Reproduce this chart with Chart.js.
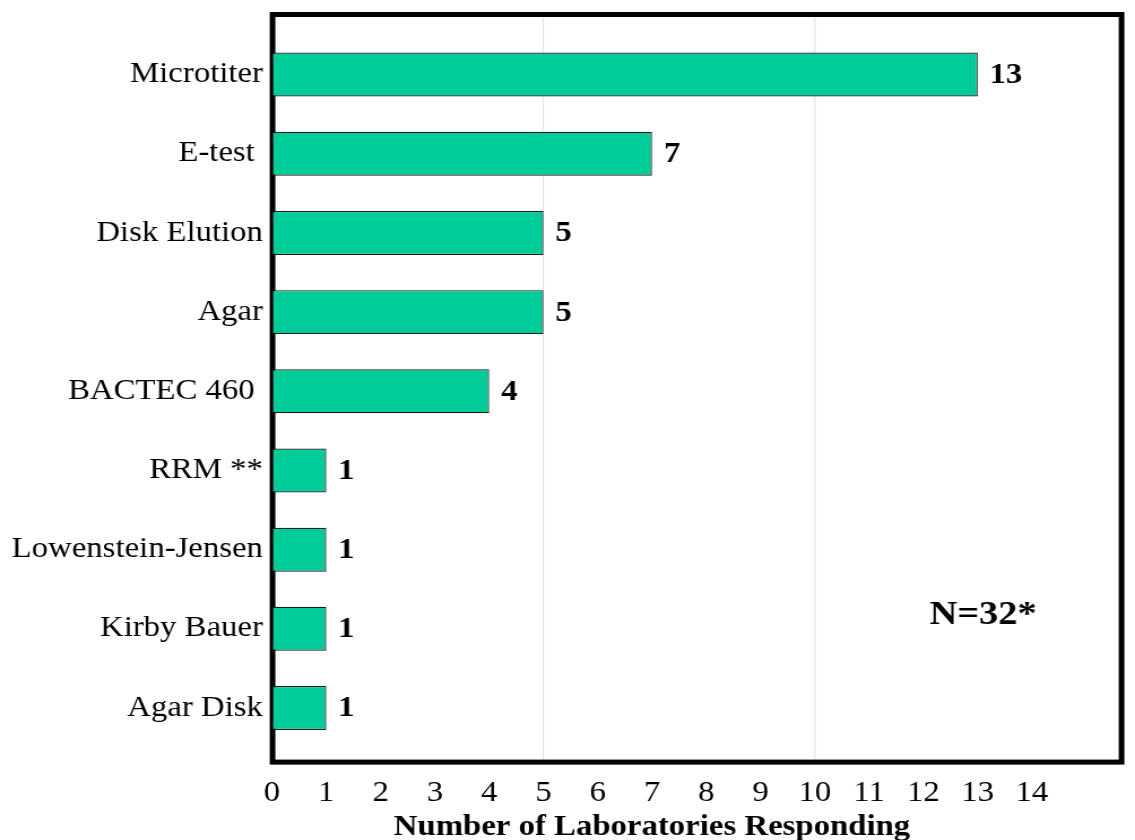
<!DOCTYPE html>
<html>
<head>
<meta charset="utf-8">
<script src="https://cdn.jsdelivr.net/npm/chart.js@4.4.1/dist/chart.umd.min.js"></script>
<style>
body{margin:0;background:#fff;overflow:hidden}
/* the original slide is stretched sideways a little */
#wrap{width:1004px;height:840px;transform:scaleX(1.1305);transform-origin:0 0}
</style>
</head>
<body>
<div id="wrap"><canvas id="methodChart" width="1004" height="840"></canvas></div>
<script>
const methods = ['Microtiter', 'E-test ', 'Disk Elution', 'Agar', 'BACTEC 460 ', 'RRM **', 'Lowenstein-Jensen', 'Kirby Bauer', 'Agar Disk'];
const labCounts = [13, 7, 5, 5, 4, 1, 1, 1, 1];
const tickValues = [0, 1, 2, 3, 4, 5, 6, 7, 8, 9, 10, 11, 12, 13, 14];
const gridValues = [5, 10];
const axisMax = 15.65;
const axisTitle = 'Number of Laboratories Responding';
const noteText = 'N=32*';

const serif = '"Liberation Serif", "Times New Roman", serif';

// box around the plot + the two light grid lines (drawn under the bars)
const framePlugin = {
    id: 'frame',
    beforeDatasetsDraw(chart) {
        const {ctx, chartArea} = chart;
        const x = chart.scales.x;
        const top = chartArea.top - 20.5;
        const bottom = chartArea.bottom + 14.5;
        ctx.save();
        ctx.strokeStyle = '#b4b4b4';
        ctx.lineWidth = 0.9;
        ctx.setLineDash([1, 1]);
        gridValues.forEach(v => {
            const px = x.getPixelForValue(v);
            ctx.beginPath();
            ctx.moveTo(px, top);
            ctx.lineTo(px, bottom);
            ctx.stroke();
        });
        ctx.setLineDash([]);
        ctx.strokeStyle = '#000';
        ctx.lineWidth = 5;
        ctx.strokeRect(chartArea.left + 0.5, top, chartArea.right - chartArea.left - 0.5, bottom - top);
        ctx.restore();
    }
};

// value next to every bar
const valuePlugin = {
    id: 'values',
    afterDatasetsDraw(chart) {
        const {ctx} = chart;
        const meta = chart.getDatasetMeta(0);
        ctx.save();
        ctx.fillStyle = '#000';
        ctx.font = 'bold 29px ' + serif;
        ctx.textAlign = 'left';
        ctx.textBaseline = 'middle';
        meta.data.forEach((bar, i) => {
            ctx.fillText(labCounts[i], bar.x + 10.5, bar.y + 1);
        });
        ctx.restore();
    }
};

// axis title (centred on the 0-14 ticks) and the N note
const textPlugin = {
    id: 'texts',
    afterDraw(chart) {
        const {ctx} = chart;
        const x = chart.scales.x;
        const y = chart.scales.y;
        ctx.save();
        ctx.fillStyle = '#000';
        ctx.textAlign = 'center';
        ctx.textBaseline = 'middle';
        ctx.font = 'bold 29px ' + serif;
        const mid = (x.getPixelForValue(tickValues[0]) + x.getPixelForValue(tickValues[tickValues.length - 1])) / 2;
        ctx.fillText(axisTitle, mid, 828);
        ctx.font = 'bold 34px ' + serif;
        ctx.fillText(noteText, x.getPixelForValue(13.1), (y.getPixelForValue(6) + 3 * y.getPixelForValue(7)) / 4 + 6);
        ctx.restore();
    }
};

const ctx = document.getElementById('methodChart').getContext('2d');
const methodChart = new Chart(ctx, {
    type: 'bar',
    plugins: [framePlugin, valuePlugin, textPlugin],
    data: {
        labels: methods,
        datasets: [{
            label: 'Laboratories',
            data: labCounts,
            backgroundColor: '#00CC99',
            borderColor: '#1a1a1a',
            borderWidth: 1.2,
            borderSkipped: false,
            categoryPercentage: 1,
            barPercentage: 0.555
        }]
    },
    options: {
        indexAxis: 'y',
        responsive: false,
        animation: false,
        layout: {
            padding: {top: 35, right: 11.9, bottom: 0, left: 0}
        },
        plugins: {
            legend: {display: false},
            tooltip: {enabled: false}
        },
        scales: {
            x: {
                min: 0,
                max: axisMax,
                afterBuildTicks(scale) {
                    scale.ticks = tickValues.map(v => ({value: v}));
                },
                afterFit(scale) {
                    scale.height = 92.4;
                },
                grid: {display: false, drawTicks: false},
                border: {display: false},
                ticks: {
                    color: '#000',
                    padding: 28,
                    autoSkip: false,
                    maxRotation: 0,
                    font: {family: serif, size: 29}
                }
            },
            y: {
                afterFit(scale) {
                    scale.width = 240.6;
                },
                grid: {display: false, drawTicks: false},
                border: {display: false},
                ticks: {
                    color: '#000',
                    padding: 8,
                    font: {family: serif, size: 29}
                }
            }
        }
    }
});
</script>
</body>
</html>
